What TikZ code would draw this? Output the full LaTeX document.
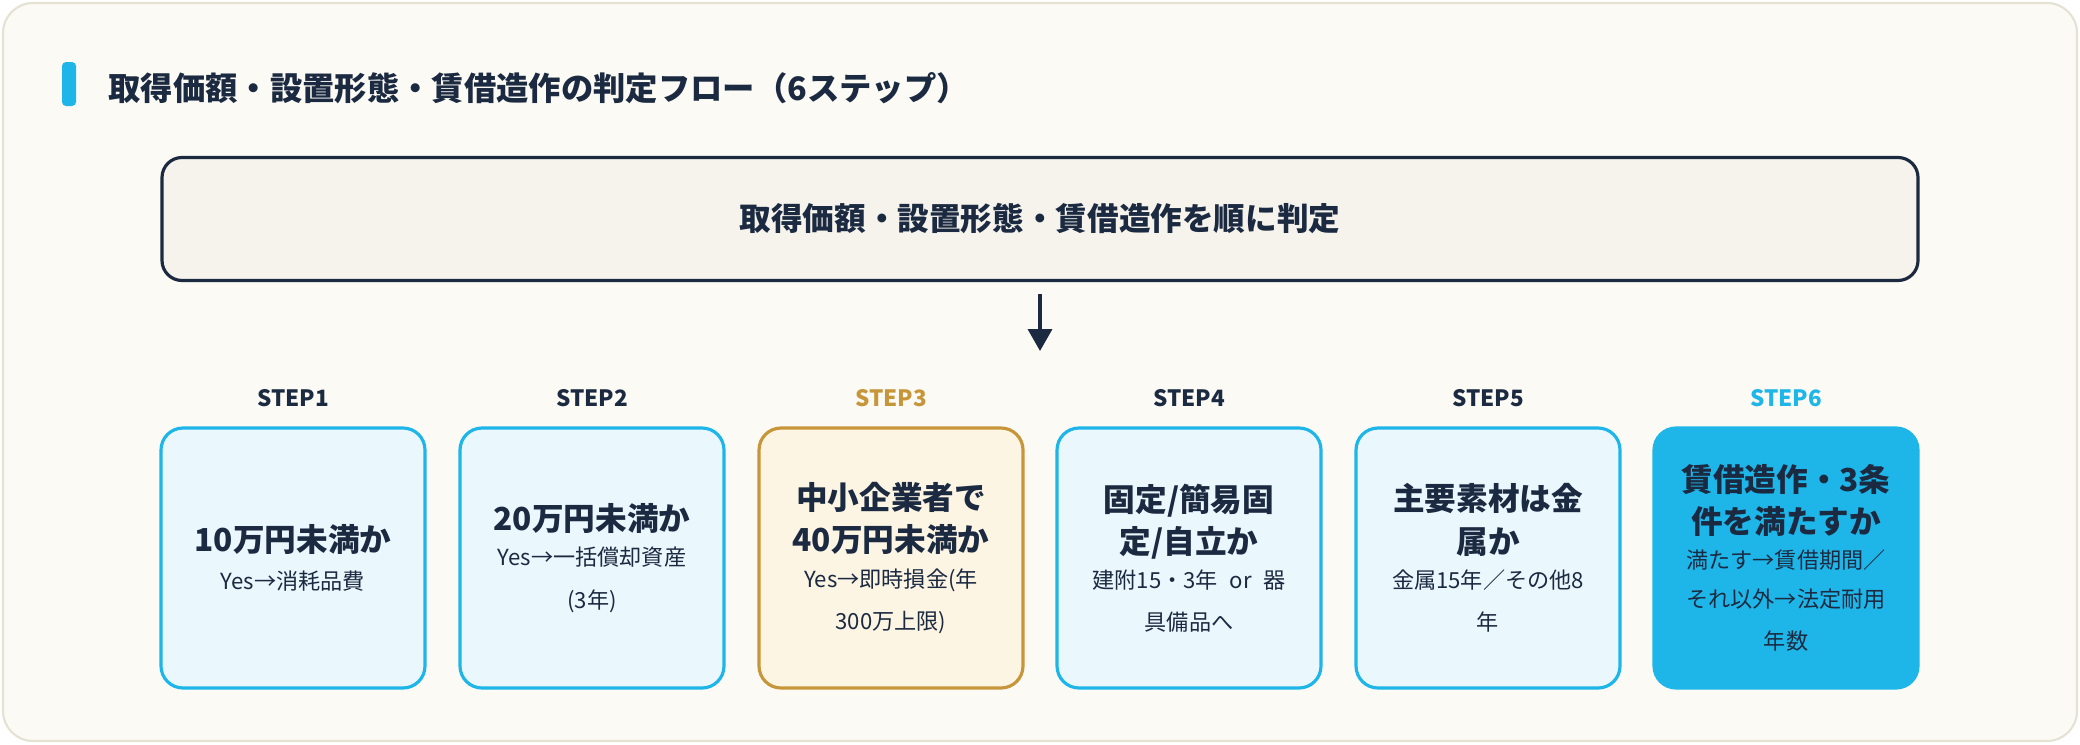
\documentclass[tikz,border=0pt]{standalone}
\usepackage{fontspec}
\setmainfont{Noto Sans CJK JP}
\usetikzlibrary{arrows.meta}
\definecolor{navy}{HTML}{1B2A41}
\definecolor{sky}{HTML}{1EB6E8}
\definecolor{skyf}{HTML}{EAF7FD}
\definecolor{gold}{HTML}{C8963A}
\definecolor{goldf}{HTML}{FDF5E4}
\definecolor{cream}{HTML}{FBFAF4}
\definecolor{creamb}{HTML}{E4E2D2}
\definecolor{topf}{HTML}{F5F3EC}
\newcommand\subtxt[1]{\\[-1pt]{\fontsize{6.3}{11}\selectfont\mdseries #1}}
\begin{document}
\begin{tikzpicture}[x=0.1mm,y=-0.1mm,
  stepbox/.style={rounded corners=2.2mm,line width=0.9pt,draw=sky,fill=skyf,minimum width=26.4mm,minimum height=26mm,text width=24mm,align=center,text=navy,inner sep=0pt},
  lab/.style={font=\fontsize{6.4}{8}\selectfont\bfseries,text=navy}]
\useasboundingbox (0,0) rectangle (2080,744);
\draw[creamb,fill=cream,line width=0.6pt,rounded corners=3mm] (3,3) rectangle (2077,741);
\fill[sky,rounded corners=0.4mm] (62,62) rectangle (76,106);
\node[anchor=west,text=navy,font=\fontsize{9.2}{11}\selectfont\bfseries] (title) at (96,88) {取得価額・設置形態・賃借造作の判定フロー（6ステップ）};
\node[draw=navy,fill=topf,line width=0.9pt,rounded corners=2mm,minimum width=175.6mm,minimum height=12.3mm,text=navy,font=\fontsize{9}{11}\selectfont\bfseries] (top) at (1040,219) {取得価額・設置形態・賃借造作を順に判定};
\coordinate (a1) at (1040,294);
\coordinate (a2) at (1040,351);
\draw[navy,line width=1pt,-{Triangle[length=2.2mm,width=2.4mm]}] (a1) -- (a2);
\foreach \i/\x/\t/\s in {1/293/10万円未満か/{Yes→消耗品費},2/592/20万円未満か/{Yes→一括償却資産\\(3年)},4/1189/{固定/簡易固\\定/自立か}/{建附15・3年 or 器\\具備品へ},5/1488/{主要素材は金\\属か}/{金属15年／その他8\\年}}{
  \node[lab] (l\i) at (\x,398) {STEP\i};
  \node[stepbox] (s\i) at (\x,558) {{\fontsize{9}{14}\selectfont\bfseries \t}\subtxt{\s}};
}
\node[lab,text=gold] (l3) at (891,398) {STEP3};
\node[stepbox,draw=gold,fill=goldf] (s3) at (891,558) {{\fontsize{9}{14}\selectfont\bfseries 中小企業者で\\40万円未満か}\subtxt{Yes→即時損金(年\\300万上限)}};
\node[lab,text=sky] (l6) at (1786,398) {STEP6};
\node[stepbox,fill=sky] (s6) at (1786,558) {{\fontsize{9}{14}\selectfont\bfseries 賃借造作・3条\\件を満たすか}\subtxt{満たす→賃借期間／\\それ以外→法定耐用\\年数}};
\end{tikzpicture}
\end{document}
